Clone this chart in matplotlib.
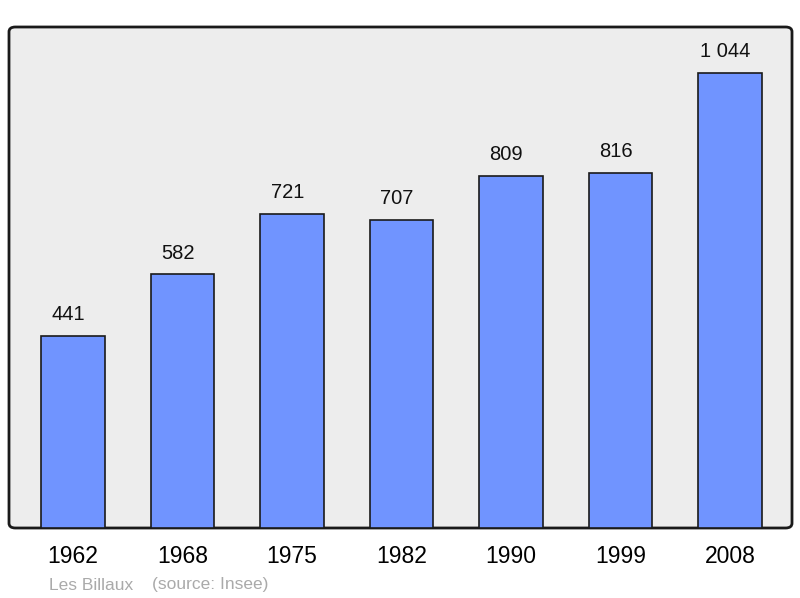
import matplotlib.pyplot as plt
from matplotlib.patches import FancyBboxPatch

years = ['1962', '1968', '1975', '1982', '1990', '1999', '2008']
population = [441, 582, 721, 707, 809, 816, 1044]
value_labels = ['441', '582', '721', '707', '809', '816', '1 044']

plt.rcParams['font.family'] = ['Liberation Sans', 'DejaVu Sans']

fig = plt.figure(figsize=(8, 5.98), dpi=100)
ax = fig.add_axes([9 / 800, 70 / 598, 783 / 800, 501 / 598])
ax.set_facecolor('none')
ax.set_zorder(1)

# rounded frame behind the plot
frame = FancyBboxPatch((9 / 800, 70 / 598), 783 / 800, 501 / 598,
                       boxstyle='round,pad=0,rounding_size=0.008',
                       transform=fig.transFigure, facecolor='#ededed',
                       edgecolor='#1a1a1a', linewidth=2, zorder=-1)
fig.patches.append(frame)

x = range(len(years))
bars = ax.bar(x, population, width=0.58, color='#7094ff',
              edgecolor='#1a1a1a', linewidth=1.2, zorder=2)

for b, lab in zip(bars, value_labels):
    ax.annotate(lab, (b.get_x() + b.get_width() / 2, b.get_height()),
                xytext=(-3.5, 8.5), textcoords='offset points',
                ha='center', va='bottom', fontsize=14.5, color='#111111')

ax.set_xlim(-0.585, 6.565)
ax.set_ylim(0, 1150)
ax.set_yticks([])
ax.set_xticks(list(x))
ax.set_xticklabels(years, fontsize=16.5)
ax.tick_params(axis='x', length=0, pad=12.5)
for s in ax.spines.values():
    s.set_visible(False)

fig.text(49 / 800, 1 - 585 / 598, 'Les Billaux', color='#aaaaaa',
         fontsize=12.5, va='center')
fig.text(152 / 800, 1 - 585 / 598, '(source: Insee)', color='#aaaaaa',
         fontsize=12.5, va='center')

fig.savefig('out.png', dpi=100)
